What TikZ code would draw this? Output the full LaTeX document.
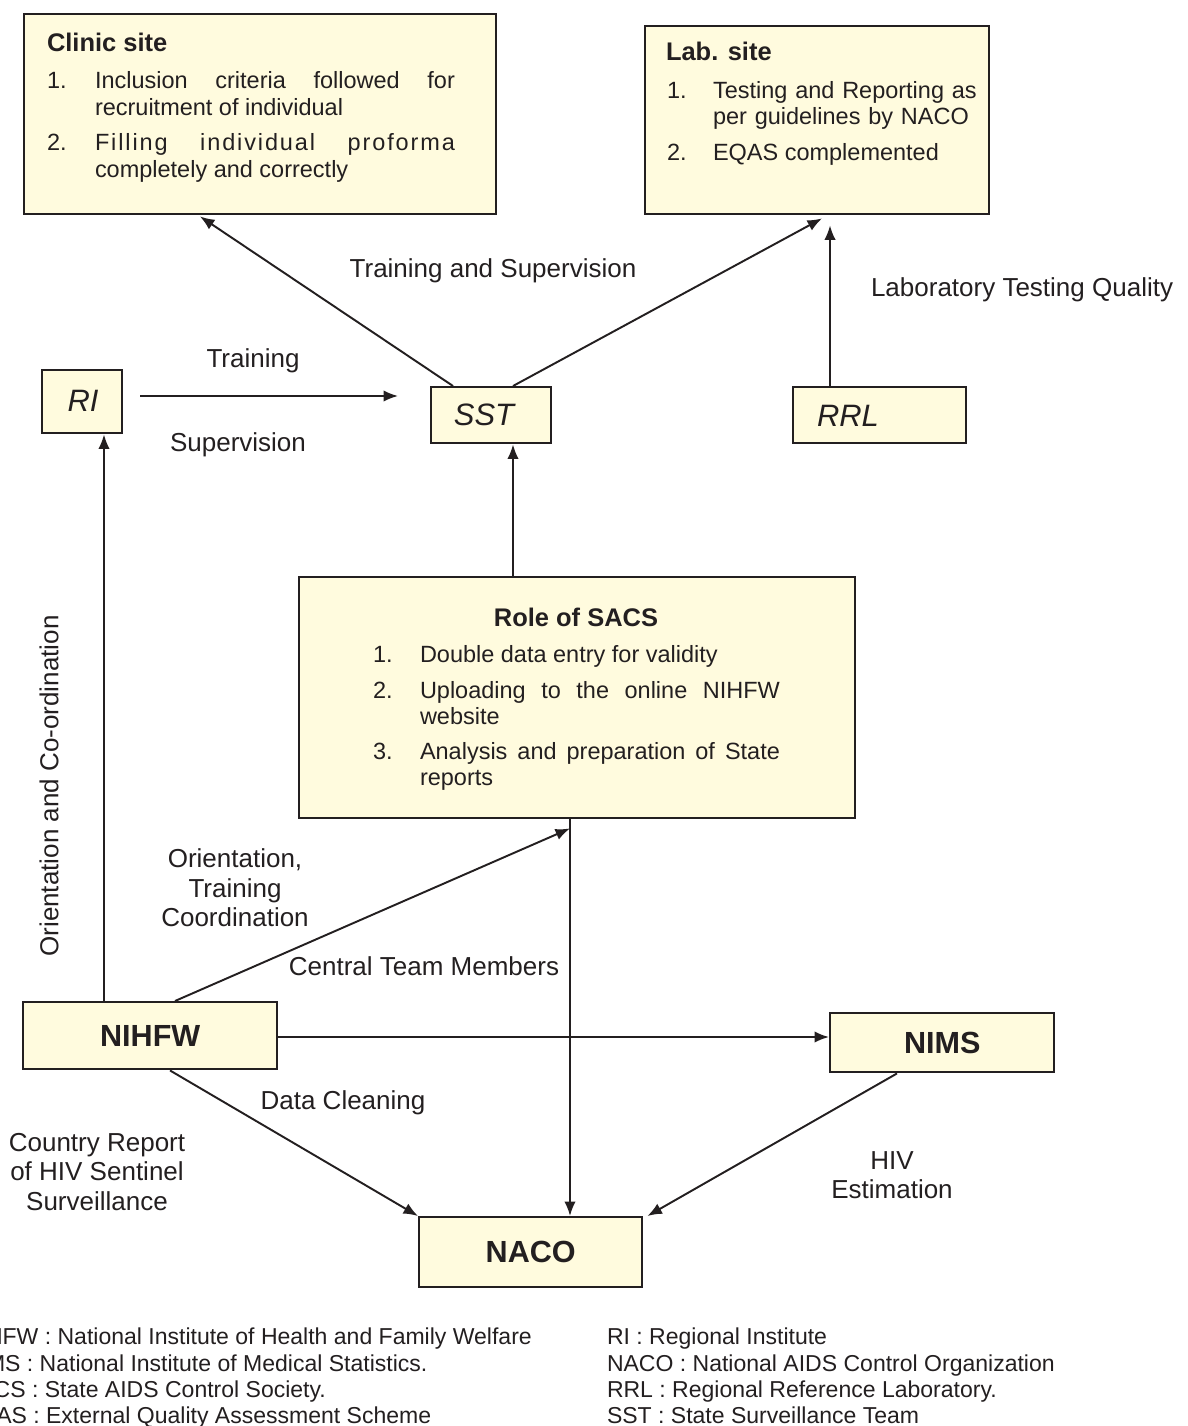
\documentclass[tikz,border=0pt]{standalone}
\usepackage{fontspec}
\setmainfont{Liberation Sans}
\usetikzlibrary{arrows.meta,calc}
\definecolor{boxfill}{RGB}{255,251,222}
\definecolor{ink}{RGB}{35,31,32}
\newcommand\dgBody{\fontsize{13.37pt}{14.8pt}\selectfont}
\newcommand\dgLabel{\fontsize{14.8pt}{16.8pt}\selectfont}
\newcommand\dgTitle{\fontsize{14.5pt}{16pt}\selectfont\bfseries}
\newcommand\dgBig{\fontsize{17.4pt}{20pt}\selectfont\bfseries}
\newcommand\dgItal{\fontsize{17.6pt}{20pt}\selectfont\itshape}
\newcommand\dgLegend{\fontsize{13.1pt}{15.4pt}\selectfont}
\begin{document}
\begin{tikzpicture}[x=0.02cm,y=-0.02cm,
  box/.style={draw=ink, fill=boxfill, line width=1.4pt, inner sep=0pt, anchor=north west},
  arr/.style={draw=ink, line width=1.1pt, -{Latex[length=0.29cm,width=0.23cm]}},
  txt/.style={inner sep=0pt, outer sep=0pt, text=ink}]
\useasboundingbox (0,0) rectangle (1187,1426);
\clip (0,0) rectangle (1187,1426);

% boxes
\node[box, minimum width=9.44cm, minimum height=4cm] (clinic) at (23,13) {};
\node[box, minimum width=6.88cm, minimum height=3.76cm] (lab) at (644,25) {};
\node[box, minimum width=1.6cm, minimum height=1.26cm] (RI) at (41,369) {};
\node[box, minimum width=2.4cm, minimum height=1.12cm] (SST) at (430,386) {};
\node[box, minimum width=3.46cm, minimum height=1.12cm] (RRL) at (792,386) {};
\node[box, minimum width=11.12cm, minimum height=4.82cm] (SACS) at (298,576) {};
\node[box, minimum width=5.08cm, minimum height=1.34cm, font=\dgBig, text=ink] (NIHFW) at (22,1001) {NIHFW};
\node[box, minimum width=4.48cm, minimum height=1.18cm, font=\dgBig, text=ink] (NIMS) at (829,1012) {NIMS};
\node[box, minimum width=4.46cm, minimum height=1.4cm, font=\dgBig, text=ink] (NACO) at (418,1216) {NACO};
\node[txt, font=\dgItal] (RIt) at (83,401) {RI};
\node[txt, font=\dgItal] (SSTt) at (484,415) {SST};
\node[txt, font=\dgItal] (RRLt) at (848,416) {RRL};

% clinic site text
\node[txt, anchor=base west, font=\dgTitle] (clinicT) at (47,52) {Clinic site};
\node[txt, anchor=base west, font=\dgBody] (c1n) at (47,89) {1.};
\node[txt, anchor=base west, font=\dgBody, text width=7.2cm, align=justify] (c1) at (95,89)
  {Inclusion criteria followed for\linebreak recruitment of individual};
\node[txt, anchor=base west, font=\dgBody] (c2n) at (47,151) {2.};
\node[txt, anchor=base west, font=\dgBody, text width=7.2cm, align=justify] (c2) at (95,151)
  {{\addfontfeature{LetterSpace=8}Filling individual proforma}\linebreak completely and correctly};

% lab site text
\node[txt, anchor=base west, font=\dgTitle] (labT) at (666,61) {Lab. site};
\node[txt, anchor=base west, font=\dgBody] (l1n) at (667,98) {1.};
\node[txt, anchor=base west, font=\dgBody, text width=5.6cm, align=left] (l1) at (713,98)
  {Testing and Reporting as\\per guidelines by NACO};
\node[txt, anchor=base west, font=\dgBody] (l2n) at (667,160) {2.};
\node[txt, anchor=base west, font=\dgBody] (l2) at (713,160) {EQAS complemented};

% SACS text
\node[txt, anchor=base, font=\dgTitle] (sacsT) at (576,626) {Role of SACS};
\node[txt, anchor=base west, font=\dgBody] (s1n) at (373,662.5) {1.};
\node[txt, anchor=base west, font=\dgBody] (s1) at (420,662.5) {Double data entry for validity};
\node[txt, anchor=base west, font=\dgBody] (s2n) at (373,698.5) {2.};
\node[txt, anchor=base west, font=\dgBody, text width=7.2cm, align=justify] (s2) at (420,698.5)
  {Uploading to the online NIHFW\linebreak website};
\node[txt, anchor=base west, font=\dgBody] (s3n) at (373,759.5) {3.};
\node[txt, anchor=base west, font=\dgBody, text width=7.2cm, align=justify] (s3) at (420,759.5)
  {Analysis and preparation of State\linebreak reports};

% connectors
\coordinate (trS) at (140,396);
\coordinate (trE) at (398,396);
\draw[arr] ($(SST.north west)+(23,0)$) -- ($(clinic.south west)+(177,1)$);
\draw[arr] ($(SST.north west)+(83,0)$) -- ($(lab.south west)+(178,3)$);
\draw[arr] ($(RRL.north west)+(38,0)$) -- ($(lab.south west)+(186,10)$);
\draw[arr] (trS) -- (trE);
\draw[arr] ($(NIHFW.north west)+(82,0)$) -- ($(RI.south west)+(63,0)$);
\draw[arr] ($(SACS.north west)+(215,0)$) -- ($(SST.south west)+(83,0)$);
\draw[arr] ($(NIHFW.north west)+(153,0)$) -- ($(SACS.south west)+(272,9)$);
\draw[arr] ($(SACS.south west)+(272,0)$) -- ($(NACO.north west)+(152,0)$);
\draw[arr] ($(NIHFW.north east)+(0,36)$) -- ($(NIMS.north west)+(0,25)$);
\draw[arr] ($(NIHFW.south west)+(148,0)$) -- (NACO.north west);
\draw[arr] ($(NIMS.south west)+(68,0)$) -- ($(NACO.north east)+(4,0)$);

% labels
\node[txt, anchor=base, font=\dgLabel] (lTS) at (493,277) {Training and Supervision};
\node[txt, anchor=base west, font=\dgLabel] (lLTQ) at (871,296) {Laboratory Testing Quality};
\node[txt, anchor=base, font=\dgLabel] (lTr) at (253,367) {Training};
\node[txt, anchor=base, font=\dgLabel] (lSup) at (238,451) {Supervision};
\node[txt, rotate=90, font=\dgLabel] (lOC) at (49,786) {Orientation and Co-ordination};
\node[txt, align=center, font=\dgLabel] (lOTC) at (235,888) {Orientation,\\Training\\Coordination};
\node[txt, anchor=base, font=\dgLabel] (lCTM) at (424,975) {Central Team Members};
\node[txt, anchor=base, font=\dgLabel] (lDC) at (343,1109) {Data Cleaning};
\node[txt, align=center, font=\dgLabel] (lCR) at (97,1172) {Country Report\\of HIV Sentinel\\Surveillance};
\node[txt, align=center, font=\dgLabel] (lHIV) at (892,1175) {HIV\\Estimation};

% legend (left column is cut by the picture's left edge, as in the reference)
\node[txt, anchor=base west, font=\dgLegend] (g1) at (-37,1344) {NIHFW : National Institute of Health and Family Welfare};
\node[txt, anchor=base west, font=\dgLegend] (g2) at (-37,1371) {NIMS : National Institute of Medical Statistics.};
\node[txt, anchor=base west, font=\dgLegend] (g3) at (-37,1397) {SACS : State AIDS Control Society.};
\node[txt, anchor=base west, font=\dgLegend] (g4) at (-37,1423) {EQAS : External Quality Assessment Scheme};
\node[txt, anchor=base west, font=\dgLegend] (g5) at (607,1344) {RI : Regional Institute};
\node[txt, anchor=base west, font=\dgLegend] (g6) at (607,1371) {NACO : National AIDS Control Organization};
\node[txt, anchor=base west, font=\dgLegend] (g7) at (607,1397) {RRL : Regional Reference Laboratory.};
\node[txt, anchor=base west, font=\dgLegend] (g8) at (607,1423) {SST : State Surveillance Team};
\end{tikzpicture}
\end{document}
